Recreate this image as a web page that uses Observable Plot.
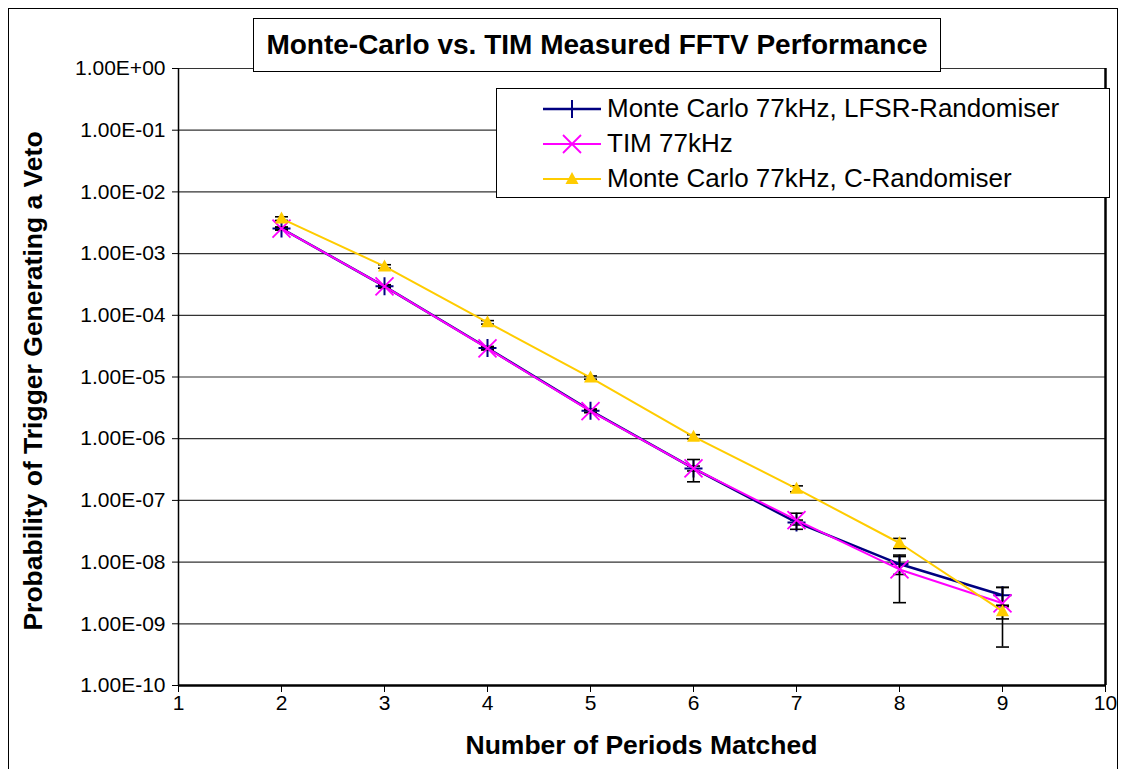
<!DOCTYPE html>
<html><head><meta charset="utf-8">
<script src="https://cdn.jsdelivr.net/npm/d3@7"></script>
<script src="https://cdn.jsdelivr.net/npm/@observablehq/plot@0.6"></script>
<style>
body{margin:0;background:#fff;font-family:"Liberation Sans",Arial,sans-serif;}
#wrap{position:relative;width:1122px;height:769px;overflow:hidden;background:#fff;}
#frame{position:absolute;left:8px;top:8px;width:1110px;height:790px;border:1px solid #000;box-sizing:border-box;}
#chart{position:absolute;left:0;top:0;}
#title{position:absolute;left:253px;top:18px;width:688px;height:54px;border:1px solid #000;box-sizing:border-box;background:#fff;font-weight:bold;font-size:28px;display:flex;align-items:center;justify-content:center;white-space:nowrap;}
#legend{position:absolute;left:496px;top:88px;width:614px;height:110px;border:1px solid #000;box-sizing:border-box;background:#fff;padding-top:2px;}
.row{display:flex;align-items:center;height:35px;font-size:26px;white-space:nowrap;}
.row svg{margin-left:46px;margin-right:6px;}
#xlab{position:absolute;left:0;width:1283px;top:730px;text-align:center;font-weight:bold;font-size:26.5px;}
#ylab{position:absolute;left:33px;top:381px;transform:translate(-50%,-50%) rotate(-90deg);font-weight:bold;font-size:26.5px;white-space:nowrap;}
</style>
</head><body>
<div id="wrap">
  <div id="frame"></div>
  <div id="chart"></div>
  <div id="title">Monte-Carlo vs. TIM Measured FFTV Performance</div>
  <div id="legend"></div>
  <div id="xlab">Number of Periods Matched</div>
  <div id="ylab">Probability of Trigger Generating a Veto</div>
</div>
<script>
// ---- data ----
const periods = [2, 3, 4, 5, 6, 7, 8, 9];
const lfsrValues = [2.55e-3, 2.95e-4, 2.95e-5, 2.85e-6, 3.3e-7, 4.4e-8, 9.3e-9, 2.9e-9];
const lfsrErrors = [1.5e-4, 1.8e-5, 1.8e-6, 1.8e-7, 3e-8, 4e-9, 3e-9, 1e-9];
const timValues = [2.55e-3, 2.95e-4, 2.9e-5, 2.8e-6, 3.3e-7, 4.8e-8, 7.6e-9, 2.15e-9];
const timErrors = [1.2e-4, 1.5e-5, 1.5e-6, 1.5e-7, 1.3e-7, 1.4e-8, 5.4e-9, 1.73e-9];
const cValues = [3.7e-3, 6.2e-4, 7.7e-5, 9.8e-6, 1.08e-6, 1.55e-7, 2.04e-8, 1.6e-9];
const cErrors = [2.5e-4, 4e-5, 5e-6, 6e-7, 8e-8, 1.7e-8, 3.8e-9, 4e-10];
const seriesNames = ["Monte Carlo 77kHz, LFSR-Randomiser", "TIM 77kHz", "Monte Carlo 77kHz, C-Randomiser"];
const seriesColors = ["#000080", "#FF00FF", "#FFCC00"];
const xTicks = [1, 2, 3, 4, 5, 6, 7, 8, 9, 10];
const yTickValues = [1, 1e-1, 1e-2, 1e-3, 1e-4, 1e-5, 1e-6, 1e-7, 1e-8, 1e-9, 1e-10];
const yTickLabels = ["1.00E+00", "1.00E-01", "1.00E-02", "1.00E-03", "1.00E-04", "1.00E-05", "1.00E-06", "1.00E-07", "1.00E-08", "1.00E-09", "1.00E-10"];

// ---- build rows ----
function rows(vals, errs) {
  return periods.map((x, i) => ({x, y: vals[i], lo: Math.max(vals[i] - errs[i], 1e-11), hi: vals[i] + errs[i]}));
}
const lfsr = rows(lfsrValues, lfsrErrors);
const tim = rows(timValues, timErrors);
const cr = rows(cValues, cErrors);

// ---- symbols ----
const capSym = {draw(c) { c.moveTo(-6.5, 0); c.lineTo(6.5, 0); }};
const plusSym = {draw(c) { c.moveTo(-9, 0); c.lineTo(9, 0); c.moveTo(0, -9); c.lineTo(0, 9); }};
const timesSym = {draw(c) { c.moveTo(-9, -9); c.lineTo(9, 9); c.moveTo(-9, 9); c.lineTo(9, -9); }};
const triSym = {draw(c) { c.moveTo(0, -7); c.lineTo(6.5, 5); c.lineTo(-6.5, 5); c.closePath(); }};

function errMarks(data) {
  return [
    Plot.ruleX(data, {x: "x", y1: "lo", y2: "hi", stroke: "#000", strokeWidth: 1.6}),
    Plot.dot(data, {x: "x", y: "lo", symbol: capSym, r: 5, stroke: "#000", fill: "none", strokeWidth: 1.6}),
    Plot.dot(data, {x: "x", y: "hi", symbol: capSym, r: 5, stroke: "#000", fill: "none", strokeWidth: 1.6})
  ];
}

const chart = Plot.plot({
  width: 1122,
  height: 769,
  marginLeft: 178,
  marginRight: 17,
  marginTop: 68,
  marginBottom: 84,
  style: {fontFamily: "'Liberation Sans', Arial, sans-serif", fontSize: "20px", background: "transparent", color: "#000", overflow: "visible"},
  x: {domain: [1, 10]},
  y: {type: "log", domain: [1e-10, 1]},
  marks: [
    Plot.ruleY(yTickValues, {stroke: "#333", strokeWidth: 1.2}),
    Plot.ruleX([1], {stroke: "#000", strokeWidth: 1.5}),
    Plot.ruleX([10], {stroke: "#000", strokeWidth: 2.5}),
    Plot.ruleY([1e-10], {stroke: "#000", strokeWidth: 2.5}),
    Plot.axisY({ticks: yTickValues, tickFormat: d => yTickLabels[yTickValues.indexOf(d)], tickSize: 6, tickPadding: 7, fontSize: 21, label: null}),
    Plot.axisX({ticks: xTicks, tickFormat: d => String(d), tickSize: 7, tickPadding: 3, fontSize: 21, label: null}),
    ...errMarks(lfsr),
    Plot.line(lfsr, {x: "x", y: "y", stroke: seriesColors[0], strokeWidth: 2.5}),
    Plot.dot(lfsr, {x: "x", y: "y", symbol: plusSym, r: 5, stroke: seriesColors[0], fill: "none", strokeWidth: 2}),
    ...errMarks(tim),
    Plot.line(tim, {x: "x", y: "y", stroke: seriesColors[1], strokeWidth: 2}),
    Plot.dot(tim, {x: "x", y: "y", symbol: timesSym, r: 5, stroke: seriesColors[1], fill: "none", strokeWidth: 1.8}),
    ...errMarks(cr),
    Plot.line(cr, {x: "x", y: "y", stroke: seriesColors[2], strokeWidth: 2}),
    Plot.dot(cr, {x: "x", y: "y", symbol: triSym, r: 5, fill: seriesColors[2], stroke: "none"})
  ]
});
document.getElementById("chart").appendChild(chart);

// ---- legend ----
const legendSyms = [
  '<line x1="0" y1="10" x2="58" y2="10" stroke="#000080" stroke-width="2.5"/><line x1="29" y1="1" x2="29" y2="19" stroke="#000080" stroke-width="2"/>',
  '<line x1="0" y1="10" x2="58" y2="10" stroke="#FF00FF" stroke-width="2"/><path d="M20,1L38,19M20,19L38,1" stroke="#FF00FF" stroke-width="1.8"/>',
  '<line x1="0" y1="10" x2="58" y2="10" stroke="#FFCC00" stroke-width="2"/><path d="M29,3L35.5,15L22.5,15Z" fill="#FFCC00"/>'
];
const leg = document.getElementById("legend");
seriesNames.forEach((name, i) => {
  const r = document.createElement("div");
  r.className = "row";
  r.innerHTML = '<svg width="58" height="20">' + legendSyms[i] + '</svg><span>' + name + '</span>';
  leg.appendChild(r);
});
</script>
</body></html>
